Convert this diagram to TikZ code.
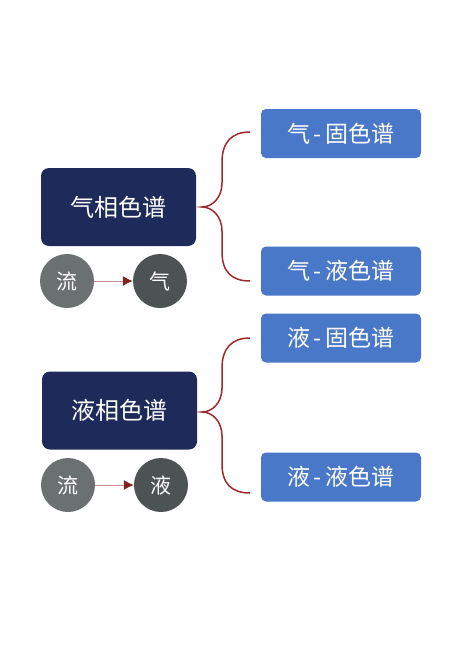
\documentclass[tikz,border=0pt]{standalone}
\usepackage{fontspec}
\newfontfamily\cjk{Noto Sans CJK SC}
\usetikzlibrary{arrows.meta}
\definecolor{phasenavy}{HTML}{1E2B5A}
\definecolor{typeblue}{HTML}{4A78C8}
\definecolor{flowgray}{HTML}{6B7070}
\definecolor{statgray}{HTML}{4D5252}
\definecolor{bracered}{HTML}{9E2A2B}
\definecolor{arrowpink}{HTML}{C89090}
\tikzset{
  phase/.style={fill=phasenavy, rounded corners=8pt, minimum width=155pt, minimum height=78pt, text=white, font=\cjk\fontsize{24}{24}\selectfont},
  kind/.style={fill=typeblue, rounded corners=5pt, minimum width=160pt, minimum height=49pt, text=white, font=\cjk\fontsize{23}{23}\selectfont},
  mobile/.style={circle, fill=flowgray, minimum size=54pt, inner sep=0pt, text=white, font=\cjk\fontsize{21}{21}\selectfont},
  still/.style={mobile, fill=statgray},
  brace/.style={draw=bracered, line width=1.5pt},
  flow/.style={draw=arrowpink, line width=1pt, -{Latex[length=10pt,width=10pt,color=bracered!80!black]}}
}
\begin{document}
\begin{tikzpicture}[x=1pt,y=-1pt]
\useasboundingbox[fill=white] (0,0) rectangle (472,656);
% gas chromatography
\node[phase] (gc) at (118.5,207) {气相色谱};
\node[kind] (gs) at (341,133.5) {气\,-\,固色谱};
\node[kind] (gl) at (341,271) {气\,-\,液色谱};
\node[mobile] (gflow) at (67,281) {流};
\node[still] (gstat) at (160,281) {气};
\draw[flow] (gflow) -- (gstat);
\coordinate (gtip) at (202,207);
\coordinate (gup) at (250,132);
\coordinate (gdown) at (250,281);
\draw[brace] (gup) .. controls (232,132) and (222,142) .. (222,162) -- (222,183)
  .. controls (222,198) and (212,207) .. (gtip)
  .. controls (212,207) and (222,216) .. (222,231) -- (222,252)
  .. controls (222,272) and (232,281) .. (gdown);
% liquid chromatography
\node[phase] (lc) at (119.5,410.5) {液相色谱};
\node[kind] (ls) at (341,338) {液\,-\,固色谱};
\node[kind] (ll) at (341,477) {液\,-\,液色谱};
\node[mobile] (lflow) at (68,485) {流};
\node[still] (lstat) at (161,485) {液};
\draw[flow] (lflow) -- (lstat);
\coordinate (ltip) at (202,412);
\coordinate (lup) at (250,338);
\coordinate (ldown) at (250,493);
\draw[brace] (lup) .. controls (232,338) and (222,348) .. (222,368) -- (222,388)
  .. controls (222,403) and (212,412) .. (ltip)
  .. controls (212,412) and (222,421) .. (222,436) -- (222,464)
  .. controls (222,484) and (232,493) .. (ldown);
\end{tikzpicture}
\end{document}
